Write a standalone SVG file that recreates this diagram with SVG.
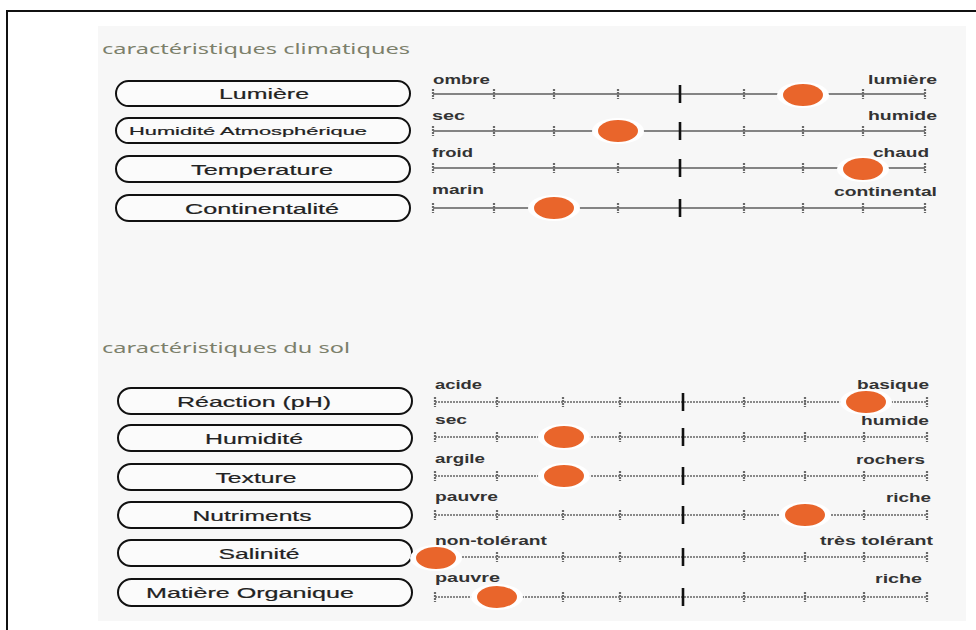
<svg xmlns="http://www.w3.org/2000/svg" xmlns:xlink="http://www.w3.org/1999/xlink" width="976" height="630" viewBox="0 0 976 630">
<defs>
<style>
.hdr{font-family:"Noto Sans","Liberation Sans",sans-serif;font-size:13.5px;fill:#7c806b}
.pill{fill:#fbfbfb;stroke:#111;stroke-width:2}
.pl{font-family:"Liberation Sans",Arial,sans-serif;font-size:15px;fill:#222;stroke:#222;stroke-width:0.2;text-anchor:middle}
.lb{font-family:"Liberation Sans",Arial,sans-serif;font-size:12px;font-weight:bold;fill:#333}
.cl{stroke:#5e5e5e;stroke-width:1.4}
.sl{stroke:#666;stroke-width:1.4;stroke-dasharray:2 1}
.mt{stroke:#6a6a6a;stroke-width:2.2;stroke-dasharray:2 1}
.Mt{stroke:#111;stroke-width:2.6}
.halo{fill:#fff}
.dot{fill:#e9652b}
</style>
<line id="mt" class="mt" x1="0" y1="-5" x2="0" y2="5"/>
<line id="Mt" class="Mt" x1="0" y1="-9" x2="0" y2="9"/>
<g id="dotm"><ellipse class="halo" rx="26" ry="13"/><ellipse class="dot" rx="20" ry="11"/></g>
<g id="cticks">
<use href="#mt" x="433"/><use href="#mt" x="494"/><use href="#mt" x="554"/><use href="#mt" x="618"/><use href="#Mt" x="680"/><use href="#mt" x="744"/><use href="#mt" x="803"/><use href="#mt" x="863"/><use href="#mt" x="925"/>
</g>
<g id="sticks">
<use href="#mt" x="435"/><use href="#mt" x="497"/><use href="#mt" x="563"/><use href="#mt" x="620"/><use href="#Mt" x="683"/><use href="#mt" x="744"/><use href="#mt" x="805"/><use href="#mt" x="864"/><use href="#mt" x="927"/>
</g>
</defs>
<rect width="976" height="630" fill="#fff"/>
<path d="M976,11 H7 V630" fill="none" stroke="#111" stroke-width="2"/>
<rect x="98" y="26" width="868" height="595" fill="#f7f7f7"/>

<g id="hdr-clim"><text class="hdr" x="102" y="54" textLength="308" lengthAdjust="spacingAndGlyphs">caractéristiques climatiques</text></g>
<g id="hdr-sol"><text class="hdr" x="102" y="353" textLength="248" lengthAdjust="spacingAndGlyphs">caractéristiques du sol</text></g>

<g id="lumiere">
<rect class="pill" x="116" y="81" width="294" height="25" rx="12.5"/>
<text class="pl" x="264" y="99" textLength="90" lengthAdjust="spacingAndGlyphs">Lumière</text>
<line class="cl" x1="433" y1="94" x2="925" y2="94"/>
<use href="#cticks" y="94"/>
<use href="#dotm" x="803" y="95"/>
<text class="lb" x="433" y="84" textLength="57" lengthAdjust="spacingAndGlyphs">ombre</text>
<text class="lb" x="868" y="84" textLength="69" lengthAdjust="spacingAndGlyphs">lumière</text>
</g>

<g id="humidite-atmospherique">
<rect class="pill" x="116" y="118" width="294" height="25" rx="12.5"/>
<text class="pl" x="248" y="135" style="font-size:11.5px;stroke-width:0.2" textLength="238" lengthAdjust="spacingAndGlyphs">Humidité Atmosphérique</text>
<line class="cl" x1="433" y1="131" x2="925" y2="131"/>
<use href="#cticks" y="131"/>
<use href="#dotm" x="618" y="131"/>
<text class="lb" x="432" y="120" textLength="33" lengthAdjust="spacingAndGlyphs">sec</text>
<text class="lb" x="868" y="120" textLength="69" lengthAdjust="spacingAndGlyphs">humide</text>
</g>

<g id="temperature">
<rect class="pill" x="116" y="156" width="294" height="26" rx="13"/>
<text class="pl" x="262" y="175" textLength="142" lengthAdjust="spacingAndGlyphs">Temperature</text>
<line class="cl" x1="433" y1="168" x2="925" y2="168"/>
<use href="#cticks" y="168"/>
<use href="#dotm" x="863" y="169"/>
<text class="lb" x="432" y="157" textLength="41" lengthAdjust="spacingAndGlyphs">froid</text>
<text class="lb" x="873" y="157" textLength="56" lengthAdjust="spacingAndGlyphs">chaud</text>
</g>

<g id="continentalite">
<rect class="pill" x="116" y="195" width="294" height="26" rx="13"/>
<text class="pl" x="262" y="214" textLength="154" lengthAdjust="spacingAndGlyphs">Continentalité</text>
<line class="cl" x1="433" y1="208" x2="925" y2="208"/>
<use href="#cticks" y="208"/>
<use href="#dotm" x="554" y="208"/>
<text class="lb" x="432" y="194" textLength="52" lengthAdjust="spacingAndGlyphs">marin</text>
<text class="lb" x="834" y="196" textLength="103" lengthAdjust="spacingAndGlyphs">continental</text>
</g>

<g id="reaction-ph">
<rect class="pill" x="118" y="388" width="294" height="26" rx="13"/>
<text class="pl" x="254" y="407" textLength="154" lengthAdjust="spacingAndGlyphs">Réaction (pH)</text>
<line class="sl" x1="435" y1="402" x2="927" y2="402"/>
<use href="#sticks" y="402"/>
<use href="#dotm" x="866" y="402"/>
<text class="lb" x="435" y="389" textLength="47" lengthAdjust="spacingAndGlyphs">acide</text>
<text class="lb" x="857" y="389" textLength="72" lengthAdjust="spacingAndGlyphs">basique</text>
</g>

<g id="humidite">
<rect class="pill" x="118" y="425" width="294" height="26" rx="13"/>
<text class="pl" x="254" y="444" textLength="98" lengthAdjust="spacingAndGlyphs">Humidité</text>
<line class="sl" x1="435" y1="437" x2="927" y2="437"/>
<use href="#sticks" y="437"/>
<use href="#dotm" x="564" y="437"/>
<text class="lb" x="435" y="424" textLength="32" lengthAdjust="spacingAndGlyphs">sec</text>
<text class="lb" x="861" y="425" textLength="68" lengthAdjust="spacingAndGlyphs">humide</text>
</g>

<g id="texture">
<rect class="pill" x="118" y="464" width="294" height="26" rx="13"/>
<text class="pl" x="256" y="483" textLength="81" lengthAdjust="spacingAndGlyphs">Texture</text>
<line class="sl" x1="435" y1="476" x2="927" y2="476"/>
<use href="#sticks" y="476"/>
<use href="#dotm" x="564" y="476"/>
<text class="lb" x="435" y="463" textLength="50" lengthAdjust="spacingAndGlyphs">argile</text>
<text class="lb" x="856" y="464" textLength="69" lengthAdjust="spacingAndGlyphs">rochers</text>
</g>

<g id="nutriments">
<rect class="pill" x="118" y="502" width="294" height="26" rx="13"/>
<text class="pl" x="252" y="521" textLength="119" lengthAdjust="spacingAndGlyphs">Nutriments</text>
<line class="sl" x1="435" y1="515" x2="927" y2="515"/>
<use href="#sticks" y="515"/>
<use href="#dotm" x="805" y="515"/>
<text class="lb" x="435" y="501" textLength="63" lengthAdjust="spacingAndGlyphs">pauvre</text>
<text class="lb" x="886" y="502" textLength="45" lengthAdjust="spacingAndGlyphs">riche</text>
</g>

<g id="salinite">
<rect class="pill" x="118" y="540" width="294" height="26" rx="13"/>
<text class="pl" x="259" y="559" textLength="81" lengthAdjust="spacingAndGlyphs">Salinité</text>
<line class="sl" x1="435" y1="557" x2="927" y2="557"/>
<use href="#sticks" y="557"/>
<use href="#dotm" x="436" y="558"/>
<text class="lb" x="435" y="545" textLength="112" lengthAdjust="spacingAndGlyphs">non-tolérant</text>
<text class="lb" x="820" y="545" textLength="113" lengthAdjust="spacingAndGlyphs">très tolérant</text>
</g>

<g id="matiere-organique">
<rect class="pill" x="118" y="579" width="294" height="27" rx="13.5"/>
<text class="pl" x="250" y="598" textLength="208" lengthAdjust="spacingAndGlyphs">Matière Organique</text>
<line class="sl" x1="435" y1="597" x2="927" y2="597"/>
<use href="#sticks" y="597"/>
<use href="#dotm" x="497" y="597"/>
<text class="lb" x="435" y="582" textLength="65" lengthAdjust="spacingAndGlyphs">pauvre</text>
<text class="lb" x="875" y="583" textLength="47" lengthAdjust="spacingAndGlyphs">riche</text>
</g>
</svg>
